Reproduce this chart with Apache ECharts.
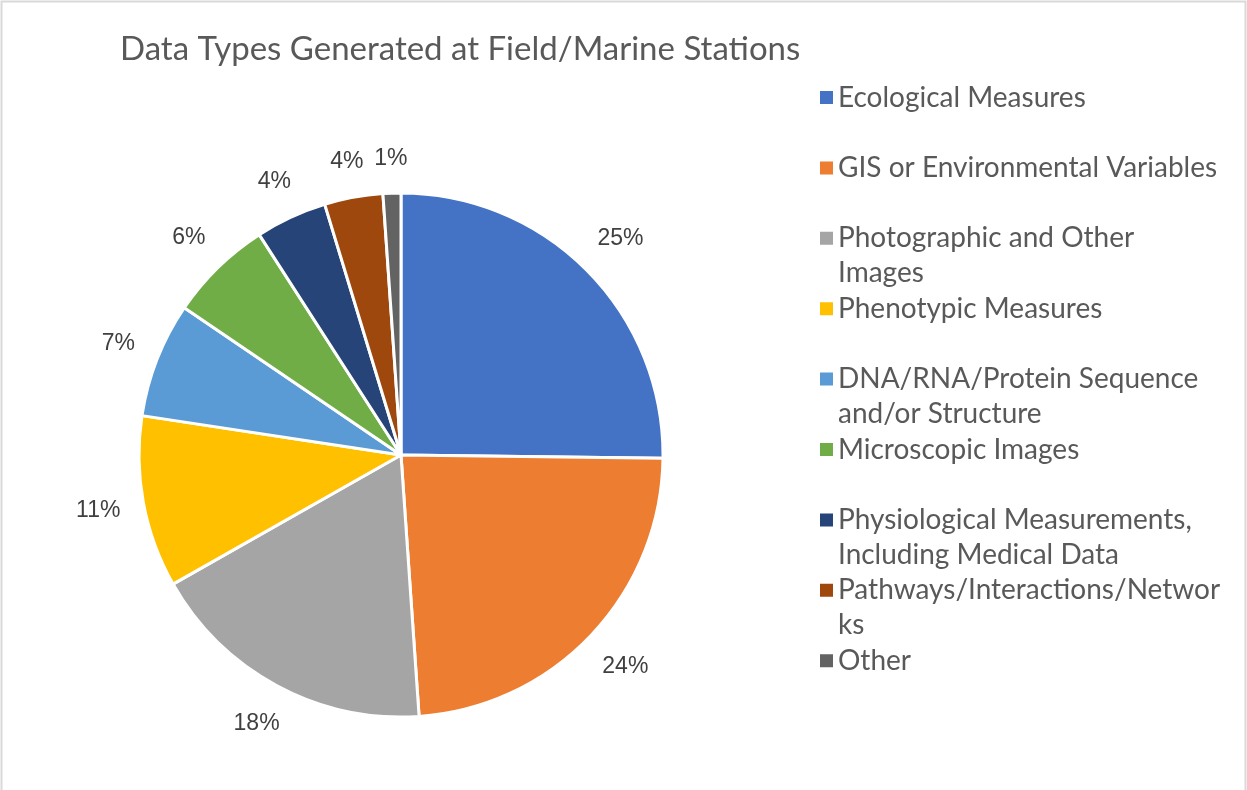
<!DOCTYPE html>
<html>
<head>
<meta charset="utf-8">
<script src="https://cdn.jsdelivr.net/npm/echarts@6/dist/echarts.min.js"></script>
<style>
html,body{margin:0;padding:0;background:#fff;}
#chart{width:1247px;height:790px;}
</style>
</head>
<body>
<div id="chart"></div>
<script>
var categories = [
  "Ecological Measures",
  "GIS or Environmental Variables",
  "Photographic and Other Images",
  "Phenotypic Measures",
  "DNA/RNA/Protein Sequence and/or Structure",
  "Microscopic Images",
  "Physiological Measurements, Including Medical Data",
  "Pathways/Interactions/Networks",
  "Other"
];
var legendLabels = [
  "Ecological Measures",
  "GIS or Environmental Variables",
  "Photographic and Other\nImages",
  "Phenotypic Measures",
  "DNA/RNA/Protein Sequence\nand/or Structure",
  "Microscopic Images",
  "Physiological Measurements,\nIncluding Medical Data",
  "Pathways/Interactions/Networ\nks",
  "Other"
];
var values = [25.2, 23.7, 17.9, 10.6, 7.1, 6.4, 4.4, 3.6, 1.1];
var colors = ["#4472C4", "#ED7D31", "#A5A5A5", "#FFC000", "#5B9BD5", "#70AD47", "#264478", "#9E480E", "#636363"];

var CX = 401, CY = 455, R = 262, GAP = 22;

var chart = echarts.init(document.getElementById('chart'));
var data = categories.map(function (c, i) {
  return { name: c, value: values[i], itemStyle: { color: colors[i] } };
});
chart.setOption({
  animation: false,
  title: {
    text: "Data Types Generated at Field/Marine Stations",
    left: 115, top: 28,
    textStyle: { fontFamily: "Lato", fontSize: 33, fontWeight: "normal", color: "#595959" }
  },
  graphic: [{
    type: 'rect', shape: { x: 1.5, y: 1.5, width: 1244, height: 820 },
    style: { fill: 'none', stroke: '#d9d9d9', lineWidth: 2 }, silent: true
  }],
  legend: {
    orient: 'vertical', left: 815, top: 75,
    itemWidth: 13, itemHeight: 70, itemGap: 0.4,
    icon: 'path://M0,11h13v13h-13z M0,0h0.05v0.05h-0.05z M0,70h0.05v0.05h-0.05z',
    itemStyle: { borderWidth: 0 },
    data: categories,
    formatter: function (name) {
      var l = legendLabels[categories.indexOf(name)];
      return l.indexOf('\n') >= 0 ? l : l + '\n ';
    },
    textStyle: { fontFamily: "Lato", fontSize: 28, lineHeight: 35, color: "#595959" }
  },
  series: [{
    type: 'pie',
    center: [CX, CY], radius: R,
    startAngle: 90, clockwise: true,
    avoidLabelOverlap: false,
    itemStyle: { borderColor: '#fff', borderWidth: 3 },
    label: {
      show: true, position: 'outside',
      formatter: function (p) { return Math.round(p.value) + '%'; },
      fontFamily: "Liberation Sans", fontSize: 23, color: "#404040",
      distanceToLabelLine: 0
    },
    labelLine: { show: false, length: 48, length2: 0 },
    labelLayout: function (p) {
      var r = p.labelRect;
      var ax = p.align === 'left' ? r.x : (p.align === 'right' ? r.x + r.width : r.x + r.width / 2);
      var ay = r.y + r.height / 2;
      var vx = ax - CX, vy = ay - CY;
      var len = Math.sqrt(vx * vx + vy * vy) || 1;
      var dx = vx / len, dy = vy / len;
      var d = R + GAP + Math.abs(dx) * r.width / 2 + Math.abs(dy) * r.height / 2;
      return { x: CX + dx * d, y: CY + dy * d, align: 'center', verticalAlign: 'middle' };
    },
    data: data
  }]
});
</script>
</body>
</html>
